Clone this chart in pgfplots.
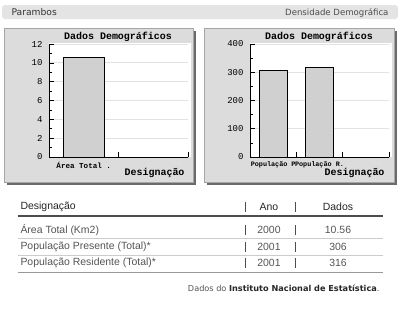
\documentclass[border=0pt]{standalone}
\usepackage{pgfplots}
\pgfplotsset{compat=1.18}
\usepackage{fontspec}
\setmainfont{Liberation Sans}
\newfontfamily\monof{Liberation Mono}
\newfontfamily\dvs{DejaVu Sans}
\definecolor{panel}{HTML}{DCDCDC}
\definecolor{shadow}{HTML}{6A6A6A}
\definecolor{barc}{HTML}{D0D0D0}
\definecolor{hdr}{HTML}{E4E4E4}
\definecolor{txt}{HTML}{555555}
\definecolor{gridc}{HTML}{E2E2E2}
\newcommand{\fs}[1]{\fontsize{#1}{#1}\selectfont}
\pgfplotsset{
  panelaxis/.style={
    scale only axis, width=139bp, height=113bp,
    axis lines*=left, ybar, bar width=0.6,
    ymin=0, xmajorgrids=false, ymajorgrids,
    major grid style={gridc, line width=0.8bp},
    tick align=inside, major tick length=5bp, minor tick length=3bp,
    tick style={black, line width=0.6bp},
    axis line style={black, line width=0.8bp},
    xticklabels={}, 
    tick label style={font=\monof\fs{9}},
    yticklabel style={xshift=-3bp},
    /pgf/number format/assume math mode=true,
    extra x tick style={major tick length=0bp, grid=none, tick label style={font=\monof\bfseries\fs{6.8}, yshift=-1.5bp, inner xsep=0pt}},
    minor y tick num=1,
    clip=false,
  }
}
\begin{document}
\begin{tikzpicture}[x=1bp,y=-1bp]
\fill[white] (0,0) rectangle (400,319);
% header bar
\fill[hdr, rounded corners=3bp] (2,5) rectangle (398,19);
\node[anchor=west, text=black!80, font=\dvs\fs{9.2}] at (8,12) {Parambos};
\node[anchor=east, text=black!70, font=\dvs\fs{8.6}] at (392,12.5) {Densidade Demográfica};
% left panel
\fill[shadow] (7,31) rectangle (196,185);
\fill[panel] (4,28) rectangle (193,182);
\draw[gray!70, line width=0.6bp] (4,28) rectangle (193,182);
\fill[white] (49,43) rectangle (191,157);
% right panel
\fill[shadow] (207,31) rectangle (397,185);
\fill[panel] (204,28) rectangle (394,182);
\draw[gray!70, line width=0.6bp] (204,28) rectangle (394,182);
\fill[white] (250,43) rectangle (392,157);

\begin{axis}[panelaxis, at={(49bp,-157bp)}, anchor=origin,
  xmin=0, xmax=2, ymax=12, ytick={0,2,...,12}, xtick={1,2},
  extra x ticks={0.5}, extra x tick labels={Área Total .},
  extra x tick style={tick label style={font=\monof\bfseries\fs{7.6}}}]
\addplot[draw=black, fill=barc, line width=0.7bp] coordinates {(0.5,10.56)};
\end{axis}
\node[font=\monof\bfseries\fs{10}] at (118,37) {Dados Demográficos};
\node[anchor=east, font=\monof\bfseries\fs{10}] at (188,173) {Designação};

\begin{axis}[panelaxis, at={(250bp,-157bp)}, anchor=origin,
  xmin=0, xmax=3, ymax=400, ytick={0,100,...,400}, xtick={1,2,3},
  extra x ticks={0.5,1.5}, extra x tick labels={População P,População R.}]
\addplot[draw=black, fill=barc, line width=0.7bp] coordinates {(0.5,306) (1.5,316)};
\end{axis}
\node[font=\monof\bfseries\fs{10}] at (319,37) {Dados Demográficos};
\node[anchor=east, font=\monof\bfseries\fs{10}] at (388,173) {Designação};

% table
\node[anchor=west, text=black!85, font=\fs{10.5}] at (17,207) {Designação};
\node[text=black!85, font=\fs{10.5}] at (269,207) {Ano};
\node[text=black!85, font=\fs{10.5}] at (338,207) {Dados};
\draw[black!70, line width=1.6bp] (18,216) -- (383,216);
\foreach \y/\a/\b/\c in {230/Área Total (Km2)/2000/10.56, 247/População Presente (Total)*/2001/306, 263/População Residente (Total)*/2001/316}{
  \node[anchor=west, text=txt, font=\fs{10.5}] at (17,\y) {\a};
  \node[text=txt, font=\fs{10.5}] at (269,\y) {\b};
  \node[text=txt, font=\fs{10.5}] at (338,\y) {\c};
}
\foreach \y in {207,230,247,263}{
  \draw[black!70, line width=0.6bp] (245,\y-5) -- (245,\y+5);
  \draw[black!70, line width=0.6bp] (295,\y-5) -- (295,\y+5);
}
\draw[black!20, line width=0.8bp] (18,238.5) -- (383,238.5);
\draw[black!20, line width=0.8bp] (18,255.5) -- (383,255.5);
\draw[black!40, line width=0.8bp] (18,272) -- (383,272);
\node[anchor=east, text=txt, font=\dvs\fs{8.2}] at (383,288) {Dados do \textcolor{black!85}{\textbf{Instituto Nacional de Estatística}}.};
\end{tikzpicture}
\end{document}
